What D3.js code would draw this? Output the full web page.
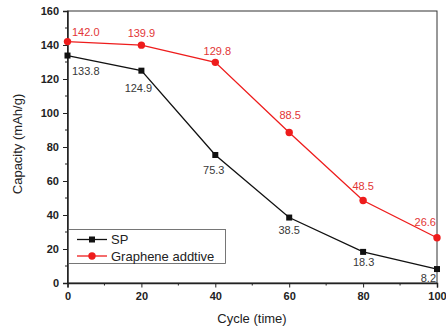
<!DOCTYPE html>
<html>
<head>
<meta charset="utf-8">
<script src="https://cdn.jsdelivr.net/npm/d3@7"></script>
<style>
	body { margin: 0; background: #fff; }
	svg { display: block; font-family: "Liberation Sans", Arial, sans-serif; }
</style>
</head>
<body>
<svg class="chart"></svg>
<script>
// data
var cycles = [0, 20, 40, 60, 80, 100];
var spValues = [133.8, 124.9, 75.3, 38.5, 18.3, 8.2];
var grapheneValues = [142.0, 139.9, 129.8, 88.5, 48.5, 26.6];
var seriesNames = ["SP", "Graphene addtive"];
var xTicks = [0, 20, 40, 60, 80, 100];
var yTicks = [0, 20, 40, 60, 80, 100, 120, 140, 160];

// where the value labels sit relative to their point (layout only)
var spLabelDx = [4.5, -3, -1.5, 0, 0.5, -1],
	spLabelDy = [19.5, 21, 19.5, 16, 14.5, 13],
	grLabelDx = [4.5, 0, 2, 1, 0, -1],
	grLabelDy = [-5.5, -8.5, -7.5, -14, -11, -12];

var svgWidth = 446,
	svgHeight = 334;

var chart = d3.select( ".chart" )
	.attr( "width", svgWidth )
	.attr( "height", svgHeight );

// note: "top" is taken by window.top, so plot* names
var plotLeft = 67.5, plotRight = 437, plotTop = 11, plotBottom = 283;

var x = d3.scaleLinear().domain( [0, 100] ).range( [plotLeft, plotRight] );
var y = d3.scaleLinear().domain( [0, 160] ).range( [plotBottom, plotTop] );

// frame
chart.append( "rect" )
	.attr( "x", plotLeft ).attr( "y", plotTop )
	.attr( "width", plotRight - plotLeft ).attr( "height", plotBottom - plotTop )
	.attr( "fill", "none" ).attr( "stroke", "#333" ).attr( "stroke-width", 1 );

// minor ticks
var g = chart.append( "g" ).attr( "stroke", "#222" );
d3.range( 10, 100, 20 ).forEach( function(v) {
	g.append( "line" ).attr( "x1", x(v) ).attr( "x2", x(v) ).attr( "y1", plotBottom ).attr( "y2", plotBottom + 2.5 );
});
d3.range( 10, 160, 20 ).forEach( function(v) {
	g.append( "line" ).attr( "y1", y(v) ).attr( "y2", y(v) ).attr( "x1", plotLeft ).attr( "x2", plotLeft - 2.5 );
});

var xAxis = chart.append( "g" )
	.attr( "transform", "translate(0," + plotBottom + ")" )
	.call( d3.axisBottom( x ).tickValues( xTicks ).tickSize( 4.5 ).tickPadding( 5 ) );
var yAxis = chart.append( "g" )
	.attr( "transform", "translate(" + plotLeft + ",0)" )
	.call( d3.axisLeft( y ).tickValues( yTicks ).tickSize( 4.5 ).tickPadding( 4 ) );

[xAxis, yAxis].forEach( function(a) {
	a.select( ".domain" ).attr( "stroke", "#222" ).attr( "stroke-width", 1.5 );
	a.selectAll( ".tick line" ).attr( "stroke", "#222" );
	a.selectAll( "text" )
		.attr( "font-size", 11 )
		.attr( "font-weight", "bold" )
		.attr( "fill", "#222" )
		.attr( "font-family", "Liberation Sans, Arial, sans-serif" );
});

// axis titles
chart.append( "text" )
	.attr( "x", 252 ).attr( "y", 323 )
	.attr( "text-anchor", "middle" )
	.attr( "font-size", 13 ).attr( "fill", "#222" )
	.text( "Cycle (time)" );
chart.append( "text" )
	.attr( "transform", "translate(22,144) rotate(-90)" )
	.attr( "text-anchor", "middle" )
	.attr( "font-size", 13 ).attr( "fill", "#222" )
	.text( "Capacity (mAh/g)" );

var line = d3.line()
	.x( function(d) { return x(d.c); } )
	.y( function(d) { return y(d.v); } );

function toPoints( values ) {
	return values.map( function(v, i) { return { c: cycles[i], v: v }; } );
}

var sp = toPoints( spValues ),
	gr = toPoints( grapheneValues );

var red = "#ee1c1c", black = "#111";

chart.append( "path" ).datum( gr )
	.attr( "d", line ).attr( "fill", "none" )
	.attr( "stroke", red ).attr( "stroke-width", 1.3 );
chart.append( "path" ).datum( sp )
	.attr( "d", line ).attr( "fill", "none" )
	.attr( "stroke", black ).attr( "stroke-width", 1.3 );

chart.selectAll( ".grdot" ).data( gr ).enter()
	.append( "circle" ).classed( "grdot", true )
	.attr( "cx", function(d) { return x(d.c); } )
	.attr( "cy", function(d) { return y(d.v); } )
	.attr( "r", 3.7 ).attr( "fill", red );

chart.selectAll( ".spdot" ).data( sp ).enter()
	.append( "rect" ).classed( "spdot", true )
	.attr( "x", function(d) { return x(d.c) - 3; } )
	.attr( "y", function(d) { return y(d.v) - 3; } )
	.attr( "width", 6 ).attr( "height", 6 ).attr( "fill", black );

// value labels
function anchor( i ) {
	if( i === 0 ) return "start";
	if( i === cycles.length - 1 ) return "end";
	return "middle";
}

chart.selectAll( ".grlab" ).data( gr ).enter()
	.append( "text" ).classed( "grlab", true )
	.attr( "x", function(d, i) { return x(d.c) + grLabelDx[i]; } )
	.attr( "y", function(d, i) { return y(d.v) + grLabelDy[i]; } )
	.attr( "text-anchor", function(d, i) { return anchor(i); } )
	.attr( "font-size", 11 ).attr( "fill", "#e23636" )
	.text( function(d) { return d.v.toFixed(1); } );

chart.selectAll( ".splab" ).data( sp ).enter()
	.append( "text" ).classed( "splab", true )
	.attr( "x", function(d, i) { return x(d.c) + spLabelDx[i]; } )
	.attr( "y", function(d, i) { return y(d.v) + spLabelDy[i]; } )
	.attr( "text-anchor", function(d, i) { return anchor(i); } )
	.attr( "font-size", 11 ).attr( "fill", "#383838" )
	.text( function(d) { return d.v.toFixed(1); } );

// legend
var legend = chart.append( "g" );
legend.append( "rect" )
	.attr( "x", 68.5 ).attr( "y", 229.5 )
	.attr( "width", 157 ).attr( "height", 34 )
	.attr( "fill", "#fff" ).attr( "stroke", "#555" ).attr( "stroke-width", 0.8 );

var colors = [black, red];
seriesNames.forEach( function(name, i) {
	var ly = 239.5 + i * 16.5;
	legend.append( "line" )
		.attr( "x1", 77 ).attr( "x2", 107 ).attr( "y1", ly ).attr( "y2", ly )
		.attr( "stroke", colors[i] ).attr( "stroke-width", 1.3 );
	if( i === 0 ) {
		legend.append( "rect" ).attr( "x", 89 ).attr( "y", ly - 3 )
			.attr( "width", 6 ).attr( "height", 6 ).attr( "fill", black );
	} else {
		legend.append( "circle" ).attr( "cx", 92 ).attr( "cy", ly )
			.attr( "r", 3.7 ).attr( "fill", red );
	}
	legend.append( "text" )
		.attr( "x", 111 ).attr( "y", ly + 4.5 )
		.attr( "font-size", 13 ).attr( "fill", "#222" )
		.text( name );
});
</script>
</body>
</html>
